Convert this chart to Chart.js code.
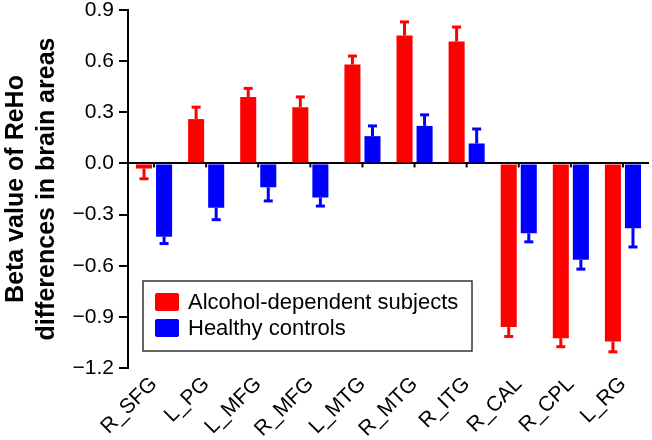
<!DOCTYPE html>
<html>
<head>
<meta charset="utf-8">
<script src="https://cdn.jsdelivr.net/npm/chart.js@4/dist/chart.umd.min.js"></script>
<style>
html,body{margin:0;padding:0;background:#fff;}
#wrap{width:652px;height:440px;}
</style>
</head>
<body>
<div id="wrap"><canvas id="c" width="652" height="440"></canvas></div>
<script>
const categories = ['R_SFG','L_PG','L_MFG','R_MFG','L_MTG','R_MTG','R_ITG','R_CAL','R_CPL','L_RG'];
const alcoholValues = [-0.03, 0.26, 0.39, 0.33, 0.58, 0.75, 0.715, -0.96, -1.025, -1.045];
const alcoholErrors = [0.06, 0.07, 0.05, 0.06, 0.05, 0.08, 0.085, 0.055, 0.05, 0.06];
const healthyValues = [-0.43, -0.26, -0.14, -0.20, 0.16, 0.22, 0.117, -0.41, -0.565, -0.38];
const healthyErrors = [0.04, 0.07, 0.08, 0.05, 0.06, 0.065, 0.085, 0.05, 0.055, 0.11];
const yTicks = [0.9, 0.6, 0.3, 0.0, -0.3, -0.6, -0.9, -1.2];
const seriesLabels = ['Alcohol-dependent subjects', 'Healthy controls'];
const seriesColors = ['#ff0000', '#0000ff'];

const FONT = "'Liberation Sans', Arial, Helvetica, sans-serif";

const errorBarPlugin = {
  id: 'errorBars',
  afterDatasetsDraw(chart) {
    const ctx = chart.ctx;
    const yScale = chart.scales.y;
    const xScale = chart.scales.x;
    ctx.save();
    ctx.strokeStyle = '#000';
    ctx.lineWidth = 2;
    const y0line = yScale.getPixelForValue(0);
    categories.forEach((c, i) => {
      const x = xScale.getPixelForTick(i);
      ctx.beginPath();
      ctx.moveTo(x, y0line);
      ctx.lineTo(x, y0line + 4);
      ctx.stroke();
    });
    ctx.restore();
    chart.data.datasets.forEach((ds, di) => {
      const meta = chart.getDatasetMeta(di);
      ctx.save();
      ctx.strokeStyle = ds.backgroundColor;
      ctx.lineWidth = 3;
      meta.data.forEach((bar, i) => {
        const v = ds.data[i];
        const e = ds.errors[i];
        const end = v >= 0 ? v + e : v - e;
        const y0 = yScale.getPixelForValue(v);
        const y1 = yScale.getPixelForValue(end);
        ctx.beginPath();
        ctx.moveTo(bar.x, y0);
        ctx.lineTo(bar.x, y1);
        ctx.stroke();
        ctx.beginPath();
        ctx.moveTo(bar.x - 4.5, y1);
        ctx.lineTo(bar.x + 4.5, y1);
        ctx.stroke();
      });
      ctx.restore();
    });
  }
};

const legendPlugin = {
  id: 'boxLegend',
  afterDraw(chart) {
    const ctx = chart.ctx;
    ctx.save();
    const bx = 143, by = 281, bw = 329, bh = 70;
    ctx.fillStyle = '#fff';
    ctx.fillRect(bx, by, bw, bh);
    ctx.strokeStyle = '#333';
    ctx.lineWidth = 1.5;
    ctx.strokeRect(bx, by, bw, bh);
    ctx.font = '22px ' + FONT;
    ctx.textBaseline = 'middle';
    chart.data.datasets.forEach((ds, i) => {
      const sy = 293 + i * 26;
      ctx.fillStyle = ds.backgroundColor;
      ctx.beginPath();
      if (ctx.roundRect) ctx.roundRect(155, sy, 24, 18, 2); else ctx.rect(155, sy, 24, 18);
      ctx.fill();
      ctx.fillStyle = '#000';
      ctx.fillText(ds.label, 188, sy + 10);
    });
    ctx.restore();
  }
};

new Chart(document.getElementById('c'), {
  type: 'bar',
  data: {
    labels: categories,
    datasets: [
      { label: seriesLabels[0], data: alcoholValues, errors: alcoholErrors, backgroundColor: seriesColors[0] },
      { label: seriesLabels[1], data: healthyValues, errors: healthyErrors, backgroundColor: seriesColors[1] }
    ]
  },
  options: {
    responsive: false,
    animation: false,
    layout: { padding: { top: 10, right: 3, left: 0, bottom: 0 } },
    datasets: { bar: { categoryPercentage: 0.77, barPercentage: 0.8 } },
    plugins: { legend: { display: false }, tooltip: { enabled: false } },
    scales: {
      x: {
        grid: { display: false, drawTicks: false },
        border: { display: false },
        ticks: {
          maxRotation: 45, minRotation: 45, autoSkip: false,
          color: '#000', font: { family: FONT, size: 21 }, padding: 4
        },
        afterFit(s) { s.height = 72; }
      },
      y: {
        min: -1.2, max: 0.9,
        afterBuildTicks(s) { s.ticks = yTicks.map(v => ({ value: v })); },
        grid: {
          color: c => (c.tick && Math.abs(c.tick.value) < 1e-9) ? '#000' : 'rgba(0,0,0,0)',
          lineWidth: 2,
          tickColor: '#000',
          tickLength: 9,
          drawTicks: true
        },
        border: { display: true, color: '#000', width: 2 },
        ticks: {
          color: '#000', font: { family: FONT, size: 21 }, padding: 5,
          callback: v => (Math.round(v * 10) / 10).toFixed(1).replace('-', '\u2212')
        },
        title: {
          display: true,
          text: ['Beta value of ReHo', 'differences in brain areas'],
          color: '#000',
          font: { family: FONT, size: 25, weight: 'bold', lineHeight: 1.25 },
          padding: { top: 0, bottom: 0 }
        },
        afterFit(s) { s.width = 128; s.paddingTop = 0; s.paddingBottom = 0; }
      }
    }
  },
  plugins: [errorBarPlugin, legendPlugin]
});
</script>
</body>
</html>
